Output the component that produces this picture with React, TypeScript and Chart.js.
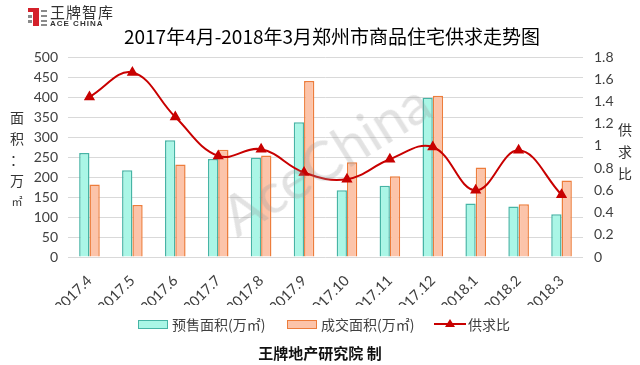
import React, { useEffect, useRef } from "react";
import { Chart, registerables } from "chart.js";

Chart.register(...registerables);

const months = ["2017.4", "2017.5", "2017.6", "2017.7", "2017.8", "2017.9", "2017.10", "2017.11", "2017.12", "2018.1", "2018.2", "2018.3"];
const presale = [260, 217, 292, 245, 248, 337, 167, 178, 398, 134, 126, 107];
const deals = [181, 130, 231, 268, 254, 440, 237, 202, 403, 224, 132, 191];
const ratio = [1.44, 1.66, 1.26, 0.91, 0.97, 0.76, 0.70, 0.88, 0.99, 0.60, 0.96, 0.56];

const TEAL_FILL = "rgb(170,246,230)";
const TEAL_LINE = "rgb(70,180,165)";
const ORANGE_FILL = "rgb(252,196,170)";
const ORANGE_LINE = "rgb(237,125,60)";
const RED = "rgb(200,0,0)";
const CJK = "'Noto Sans CJK SC', 'Noto Sans', sans-serif";
const NUM = "Lato, 'Noto Sans', sans-serif";

export default function App() {
  const ref = useRef<HTMLCanvasElement>(null);
  useEffect(() => {
    if (!ref.current) return;
    const chart = new Chart(ref.current, {
      type: "bar",
      data: {
        labels: months,
        datasets: [
          {
            type: "line",
            label: "供求比",
            data: ratio,
            yAxisID: "y1",
            borderColor: RED,
            backgroundColor: RED,
            borderWidth: 2,
            tension: 0.4,
            pointStyle: "triangle",
            pointRadius: 4.5,
            pointBackgroundColor: RED,
            pointBorderColor: RED,
            order: 0,
          } as any,
          {
            label: "预售面积(万㎡)",
            data: presale,
            yAxisID: "y",
            backgroundColor: TEAL_FILL,
            borderColor: TEAL_LINE,
            borderWidth: 1.5,
            categoryPercentage: 0.48,
            barPercentage: 1,
            order: 1,
          },
          {
            label: "成交面积(万㎡)",
            data: deals,
            yAxisID: "y",
            backgroundColor: ORANGE_FILL,
            borderColor: ORANGE_LINE,
            borderWidth: 1.5,
            categoryPercentage: 0.48,
            barPercentage: 1,
            order: 1,
          },
        ],
      },
      options: {
        responsive: false,
        animation: false,
        devicePixelRatio: 1,
        layout: { padding: { top: 57, bottom: 60, left: 0, right: 0 } },
        plugins: { legend: { display: false }, tooltip: { enabled: false }, title: { display: false } },
        scales: {
          x: {
            grid: { display: false },
            border: { display: false },
            ticks: { maxRotation: 45, minRotation: 45, color: "#404040", font: { family: NUM, size: 14.5 }, padding: 7 },
            afterFit: (s: any) => { s.height = 48; },
          },
          y: {
            position: "left",
            min: 0,
            max: 500,
            ticks: { stepSize: 50, color: "#404040", font: { family: NUM, size: 14 }, padding: 10 },
            grid: { color: "#d9d9d9", drawTicks: false, lineWidth: 1 },
            border: { display: false },
            afterFit: (s: any) => { s.width = 68; },
          },
          y1: {
            position: "right",
            min: 0,
            max: 1.8,
            ticks: {
              stepSize: 0.2,
              color: "#404040",
              font: { family: NUM, size: 14 },
              padding: 11,
              callback: (v: any) => String(Math.round(Number(v) * 10) / 10),
            },
            grid: { drawOnChartArea: false, drawTicks: false },
            border: { display: false },
            afterFit: (s: any) => { s.width = 57; },
          },
        },
      },
    });
    return () => chart.destroy();
  }, []);

  const abs = (o: React.CSSProperties): React.CSSProperties => ({ position: "absolute", whiteSpace: "nowrap", ...o });

  return (
    <div style={{ position: "absolute", left: 0, top: 0, width: 640, height: 365, background: "#fff", overflow: "hidden", fontFamily: CJK }}>
      <canvas ref={ref} width={640} height={365} style={{ position: "absolute", left: 0, top: 0 }} />
      {/* logo */}
      <div style={abs({ left: 28, top: 8, width: 5, height: 4, background: "#d4202a" })} />
      <div style={abs({ left: 33, top: 8, width: 6, height: 18, background: "#d4202a" })} />
      <div style={abs({ left: 28, top: 15, width: 4, height: 3, background: "#8a8a8a" })} />
      <div style={abs({ left: 28, top: 20, width: 4, height: 3, background: "#8a8a8a" })} />
      <div style={abs({ left: 41, top: 10, width: 6, height: 2, background: "#8a8a8a" })} />
      <div style={abs({ left: 41, top: 15, width: 6, height: 2, background: "#8a8a8a" })} />
      <div style={abs({ left: 41, top: 20, width: 6, height: 2, background: "#8a8a8a" })} />
      <div style={abs({ left: 41, top: 24, width: 6, height: 2, background: "#8a8a8a" })} />
      <div style={abs({ left: 50, top: 3, fontSize: 15, lineHeight: "18px", color: "#333", letterSpacing: 1 })}>王牌智库</div>
      <div style={abs({ left: 50, top: 20, fontSize: 8, lineHeight: "8px", color: "#333", fontWeight: 700, fontFamily: "'Liberation Sans', sans-serif", letterSpacing: 1 })}>ACE CHINA</div>
      {/* title */}
      <div style={abs({ left: 0, width: 664, top: 24, textAlign: "center", fontSize: 19, lineHeight: "24px", color: "#000" })}>
        2017年4月-2018年3月郑州市商品住宅供求走势图
      </div>
      {/* left axis title */}
      <div style={abs({ left: 8, top: 107, width: 18, textAlign: "center", fontSize: 14, lineHeight: "21px", color: "#333", whiteSpace: "normal" })}>
        <div>面</div>
        <div>积</div>
        <div>：</div>
        <div>万</div>
        <div style={{ fontSize: 11 }}>㎡</div>
      </div>
      {/* right axis title */}
      <div style={abs({ left: 616, top: 118, width: 18, textAlign: "center", fontSize: 14, lineHeight: "22px", color: "#333", whiteSpace: "normal" })}>
        <div>供</div>
        <div>求</div>
        <div>比</div>
      </div>
      {/* legend */}
      <div style={abs({ left: 138, top: 320, width: 28, height: 7, background: TEAL_FILL, border: `1px solid ${TEAL_LINE}` })} />
      <div style={abs({ left: 172, top: 315, fontSize: 14, lineHeight: "18px", color: "#404040" })}>预售面积(万㎡)</div>
      <div style={abs({ left: 287, top: 320, width: 28, height: 7, background: ORANGE_FILL, border: `1px solid ${ORANGE_LINE}` })} />
      <div style={abs({ left: 321, top: 315, fontSize: 14, lineHeight: "18px", color: "#404040" })}>成交面积(万㎡)</div>
      <div style={abs({ left: 434, top: 323, width: 32, height: 2, background: RED })} />
      <div style={abs({ left: 445, top: 319, width: 0, height: 0, borderLeft: "5px solid transparent", borderRight: "5px solid transparent", borderBottom: `8px solid ${RED}` })} />
      <div style={abs({ left: 468, top: 315, fontSize: 14, lineHeight: "18px", color: "#404040" })}>供求比</div>
      {/* footer */}
      <div style={abs({ left: 0, width: 640, top: 343, textAlign: "center", fontSize: 15, lineHeight: "20px", fontWeight: 700, color: "#111" })}>王牌地产研究院 制</div>
      {/* watermark */}
      <div style={abs({ left: 325, top: 158, transform: "translate(-50%, -50%) rotate(-32deg)", fontSize: 56, fontFamily: NUM, color: "rgba(150,150,150,0.28)", pointerEvents: "none" })}>AceChina</div>
    </div>
  );
}
